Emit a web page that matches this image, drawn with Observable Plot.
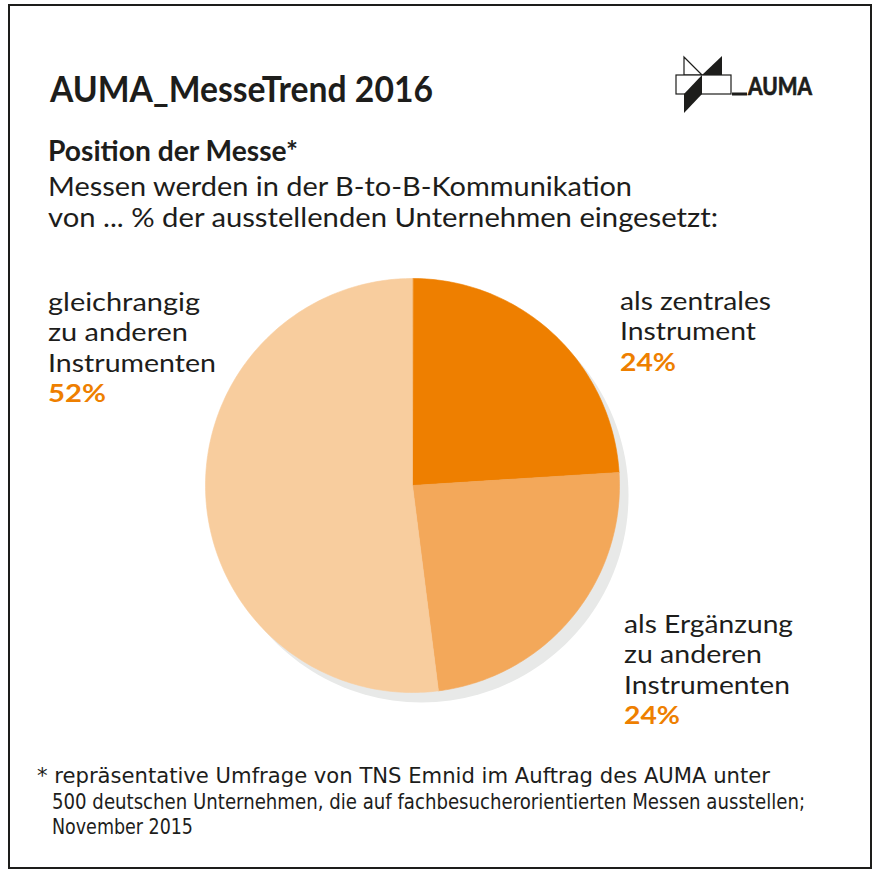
<!DOCTYPE html>
<html><head><meta charset="utf-8">
<script src="https://cdn.jsdelivr.net/npm/d3@7"></script>
<script src="https://cdn.jsdelivr.net/npm/@observablehq/plot@0.6"></script>
<style>
html,body{margin:0;padding:0;background:#fff;}
#page{position:relative;width:875px;height:870px;overflow:hidden;background:#fff;}
#frame{position:absolute;left:8px;top:4px;width:864px;height:865px;box-sizing:border-box;border:2px solid #1d1d1b;}
#pie{position:absolute;left:187px;top:260px;}
#pie svg{background:transparent !important;}
#txt{position:absolute;left:0;top:0;}
</style></head><body>
<div id="page"><div id="frame"></div><div id="pie"></div><svg id="txt" width="875" height="870"></svg></div>
<script>
// ---- data ----
const categories = ["als zentrales Instrument", "als Ergänzung zu anderen Instrumenten", "gleichrangig zu anderen Instrumenten"];
const values = [24, 24, 52];
const percentLabels = ["24%", "24%", "52%"];
const labelLines = [["als zentrales", "Instrument"], ["als Ergänzung", "zu anderen", "Instrumenten"], ["gleichrangig", "zu anderen", "Instrumenten"]];
const sliceColors = ["#ee7f00", "#f3a85a", "#f8cd9e"];
const title = "AUMA_MesseTrend 2016";
const subtitleBold = "Position der Messe*";
const subtitleLines = ["Messen werden in der B-to-B-Kommunikation", "von ... % der ausstellenden Unternehmen eingesetzt:"];
const footnoteLines = ["* repräsentative Umfrage von TNS Emnid im Auftrag des AUMA unter", "500 deutschen Unternehmen, die auf fachbesucherorientierten Messen ausstellen;", "November 2015"];
const logoText = "AUMA";

// ---- pie geometry (unit circle) ----
const arcs = d3.pie().sort(null).value(d => d)(values);
const pts = [];
arcs.forEach((a, i) => {
  pts.push({cat: categories[i], x: 0, y: 0});
  const n = Math.max(2, Math.ceil((a.endAngle - a.startAngle) / (Math.PI / 180)));
  for (let k = 0; k <= n; k++) {
    const t = a.startAngle + (a.endAngle - a.startAngle) * k / n;
    pts.push({cat: categories[i], x: Math.sin(t), y: Math.cos(t)});
  }
});
const R = 207, half = 225 / R, sdx = 9 / R, sdy = -10 / R;
const shadow = d3.range(0, 361, 2).map(deg => {
  const t = deg * Math.PI / 180;
  return {x: Math.sin(t) + sdx, y: Math.cos(t) + sdy};
});

const chart = Plot.plot({
  width: 450, height: 450, margin: 0,
  style: {background: "transparent"},
  x: {domain: [-half, half], axis: null},
  y: {domain: [-half, half], axis: null},
  color: {domain: categories, range: sliceColors},
  marks: [
    Plot.line(shadow, {x: "x", y: "y", fill: "#e8e9e8", stroke: "none", curve: "linear-closed"}),
    Plot.line(pts, {x: "x", y: "y", z: "cat", fill: "cat", stroke: "cat", strokeWidth: 0.6, curve: "linear-closed"})
  ]
});
document.getElementById("pie").appendChild(chart);

// ---- text ----
const svg = d3.select("#txt");
const dark = "#1d1d1b", orange = "#ee7f00";
const FONT = "Lato, 'Noto Sans', sans-serif";
const NARROW = "'Liberation Sans Narrow', 'DejaVu Sans Condensed', 'Liberation Sans', sans-serif";
function txt(str, x, y, size, weight, fill, len, family) {
  return svg.append("text").attr("x", x).attr("y", y)
    .attr("font-size", size).attr("font-weight", weight).attr("fill", fill)
    .attr("font-family", family || FONT)
    .attr("textLength", len).attr("lengthAdjust", "spacingAndGlyphs")
    .text(str);
}
txt(title, 50, 101.5, 35.5, 700, dark, 383);
txt(subtitleBold, 48, 161, 28.5, 700, dark, 250);
txt(subtitleLines[0], 48, 196, 27.5, 400, dark, 584);
txt(subtitleLines[1], 48, 227, 27.5, 400, dark, 670);

// label layouts: [x, first baseline, widths]
const labelLayout = [
  {x: 620, y: 310, w: [151, 136], pw: 56},
  {x: 624, y: 633, w: [169, 138, 166], pw: 56},
  {x: 48, y: 311, w: [152, 140, 168], pw: 58}
];
labelLines.forEach((lines, i) => {
  const L = labelLayout[i];
  lines.forEach((s, j) => txt(s, L.x, L.y + j * 30.3, 25.5, 400, dark, L.w[j]));
  txt(percentLabels[i], L.x, L.y + lines.length * 30.3, 25.5, 700, orange, L.pw);
});

// footnote
txt(footnoteLines[0], 37, 783, 21, 400, dark, 733, NARROW);
txt(footnoteLines[1], 52, 809, 21, 400, dark, 753, NARROW);
txt(footnoteLines[2], 52, 834, 21, 400, dark, 141, NARROW);

// logo
const g = svg.append("g");
g.append("polygon").attr("points", "684,57 684,75 702,75").attr("fill", "#fff").attr("stroke", dark).attr("stroke-width", 1.2);
g.append("rect").attr("x", 676).attr("y", 75).attr("width", 55).attr("height", 19).attr("fill", "#fff").attr("stroke", dark).attr("stroke-width", 1.2);
g.append("polygon").attr("points", "722,56 722,75 702,75").attr("fill", dark);
g.append("polygon").attr("points", "702,75 702,94 684,94").attr("fill", dark);
g.append("polygon").attr("points", "684,94 702,94 684,113").attr("fill", dark);
g.append("rect").attr("x", 732).attr("y", 92.5).attr("width", 15).attr("height", 3).attr("fill", dark);
txt(logoText, 748, 94.5, 25, 700, dark, 64).attr("stroke", dark).attr("stroke-width", 0.7);
</script>
</body></html>
